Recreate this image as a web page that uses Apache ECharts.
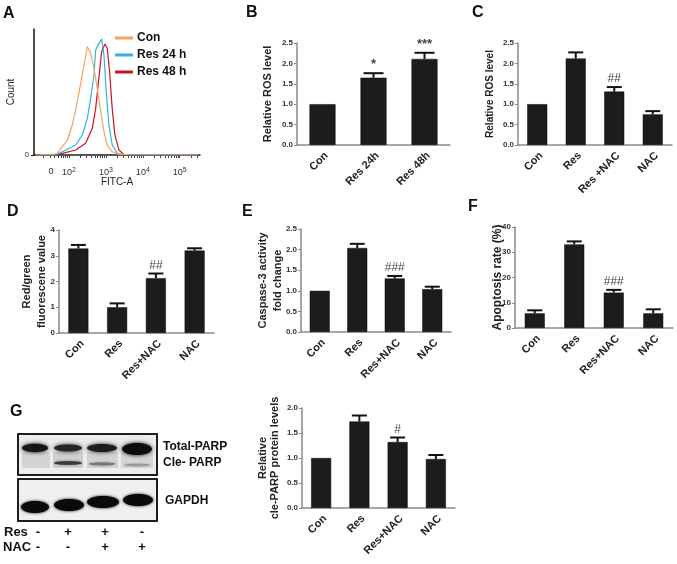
<!DOCTYPE html>
<html><head><meta charset="utf-8">
<script src="https://cdn.jsdelivr.net/npm/echarts@6/dist/echarts.min.js"></script>
<style>html,body{margin:0;padding:0;background:#fff}#c{width:677px;height:564px}</style>
</head><body><div id="c"></div>
<script>
// ---------- Panel A: flow histograms (x in display units: 2 = 10^2, 3 = 10^3 ...) ----------
const flowCon = [[1.10,0],[1.55,0.3],[1.684,1.3],[1.819,6.6],[1.954,11.9],[2.089,23.8],[2.224,42.3],[2.316,56.9],[2.405,71.4],[2.495,86],[2.586,80.7],[2.676,68.8],[2.765,52.9],[2.857,34.6],[2.946,18.5],[3.035,7.9],[3.170,2.6],[3.351,0.5],[3.6,0.2],[5.5,0]];
const flowRes24 = [[1.10,0],[1.60,0.3],[1.730,1.3],[1.911,4.0],[2.181,7.9],[2.359,15.9],[2.495,29.1],[2.586,45],[2.676,63.5],[2.722,83.3],[2.811,88.6],[2.884,92],[2.946,79.4],[3.008,50.3],[3.081,23.8],[3.170,7.9],[3.305,1.3],[3.5,0.3],[5.5,0]];
const flowRes48 = [[1.10,0],[1.65,0.3],[1.819,1.3],[2.181,4.0],[2.451,9.3],[2.630,21.2],[2.722,37],[2.811,61.6],[2.884,82],[2.973,88.1],[3.035,84.9],[3.100,66.1],[3.170,37],[3.243,15.9],[3.351,4.0],[3.486,0.5],[3.7,0.2],[5.5,0]];
const flowNames = ['Con','Res 24 h','Res 48 h'];
const flowColors = ['#F5A35E','#2FB3E6','#C8141E'];
const flowTickValues = [1.51, 2, 3, 4, 5];
const flowTickLabels = ['0','10{s|2}','10{s|3}','10{s|4}','10{s|5}'];

// ---------- Panel B ----------
const catsB = ['Con','Res 24h','Res 48h'];
const valsB = [1.0, 1.65, 2.11];
const errB  = [1.0, 1.76, 2.26];
const marksB = ['', '*', '***'];
// ---------- Panel C ----------
const catsC = ['Con','Res','Res +NAC','NAC'];
const valsC = [1.0, 2.12, 1.31, 0.75];
const errC  = [1.0, 2.27, 1.42, 0.83];
const marksC = ['', '', '##', ''];
// ---------- Panel D ----------
const catsD = ['Con','Res','Res+NAC','NAC'];
const valsD = [3.28, 1.0, 2.13, 3.2];
const errD  = [3.42, 1.15, 2.31, 3.29];
const marksD = ['', '', '##', ''];
// ---------- Panel E ----------
const catsE = ['Con','Res','Res+NAC','NAC'];
const valsE = [1.0, 2.04, 1.3, 1.04];
const errE  = [1.0, 2.14, 1.36, 1.1];
const marksE = ['', '', '###', ''];
// ---------- Panel F ----------
const catsF = ['Con','Res','Res+NAC','NAC'];
const valsF = [5.8, 33.1, 14.0, 5.8];
const errF  = [7.0, 34.3, 15.1, 7.4];
const marksF = ['', '', '###', ''];
// ---------- Panel G ----------
const catsG = ['Con','Res','Res+NAC','NAC'];
const valsG = [1.0, 1.73, 1.32, 0.98];
const errG  = [1.0, 1.85, 1.41, 1.06];
const marksG = ['', '', '#', ''];
const resRow = ['-','+','+','-'];
const nacRow = ['-','-','+','+'];

const FONT = "'Liberation Sans', Arial, sans-serif";
const chart = echarts.init(document.getElementById('c'), null, {renderer:'canvas'});

const grids = [], xAxes = [], yAxes = [], series = [];

// Panel A
grids.push({left:34, top:29, width:166, height:126});
const minorTicks = [];
for (let d = 1; d <= 5; d++) for (let k = 1; k <= 9; k++) { const v = d + Math.log10(k); if (v > 1.1 && v < 5.5) minorTicks.push(v); }
xAxes.push({type:'value', gridIndex:0, min:1.05, max:5.55, name:'FITC-A', nameLocation:'middle', nameGap:22, nameMoveOverlap:false,
  nameTextStyle:{fontFamily:FONT, fontSize:10, color:'#222'},
  axisLine:{lineStyle:{color:'#222', width:1.5}}, splitLine:{show:false},
  axisTick:{customValues:minorTicks, length:3, lineStyle:{color:'#444'}},
  axisLabel:{customValues:flowTickValues, margin:12, color:'#333', fontFamily:FONT, fontSize:9,
    formatter:(v)=>{ const i = flowTickValues.findIndex(t=>Math.abs(t-v)<1e-6); return i>=0 ? flowTickLabels[i] : ''; },
    rich:{s:{fontSize:7, verticalAlign:'bottom', padding:[0,0,5,0], fontFamily:FONT, color:'#333'}}}
});
yAxes.push({type:'value', gridIndex:0, min:0, max:100, name:'Count', nameLocation:'middle', nameGap:18, nameMoveOverlap:false,
  nameTextStyle:{fontFamily:FONT, fontSize:10, color:'#222'},
  axisLine:{show:true, lineStyle:{color:'#111', width:1.5}}, splitLine:{show:false},
  axisTick:{customValues:[0], length:3}, axisLabel:{customValues:[0], fontSize:8, color:'#333', fontFamily:FONT, margin:5}
});
[flowCon, flowRes24, flowRes48].forEach((d,i)=>{
  series.push({type:'line', name:flowNames[i], xAxisIndex:0, yAxisIndex:0, data:d, showSymbol:false, symbol:'none',
    lineStyle:{color:flowColors[i], width:1.2}, itemStyle:{color:flowColors[i]}, z:3-i+2});
});

function errRender(marks, cap){
  return function(params, api){
    const x = api.value(0), v = api.value(1), t = api.value(2);
    const p0 = api.coord([x, v]), p1 = api.coord([x, t]);
    const ch = [];
    if (t > v) {
      ch.push({type:'line', shape:{x1:p0[0], y1:p0[1], x2:p1[0], y2:p1[1]}, style:{stroke:'#111', lineWidth:2}});
      ch.push({type:'line', shape:{x1:p1[0]-cap/2, y1:p1[1], x2:p1[0]+cap/2, y2:p1[1]}, style:{stroke:'#111', lineWidth:2}});
    }
    const m = marks[params.dataIndex];
    if (m) ch.push({type:'text', x:p1[0], y:p1[1]-2, style:{text:m, align:'center', verticalAlign:'bottom',
      fontFamily:FONT, fontSize:m.indexOf('#')>=0 ? 12 : 13, fontWeight: m.indexOf('#')>=0 ? 'normal':'bold', fill:'#444'}});
    return {type:'group', children:ch};
  };
}

function barPanel(g, cats, vals, errs, marks, ymax, interval, dec, name, nameGap, nameSize, nameLH, barW, cap){
  const idx = grids.length;
  grids.push(g);
  xAxes.push({type:'category', gridIndex:idx, data:cats, boundaryGap:true,
    axisLine:{lineStyle:{color:'#8a8a8a', width:1.5}},
    axisTick:{alignWithLabel:true, length:4, lineStyle:{color:'#8a8a8a', width:1.2}},
    axisLabel:{rotate:45, margin:5, verticalAlign:'top', fontFamily:FONT, fontSize:11, fontWeight:'bold', color:'#222', interval:0}});
  yAxes.push({type:'value', gridIndex:idx, min:0, max:ymax, interval:interval,
    name:name, nameLocation:'middle', nameGap:nameGap, nameMoveOverlap:false,
    nameTextStyle:{fontFamily:FONT, fontSize:nameSize, fontWeight:'bold', color:'#222', lineHeight:nameLH, align:'center'},
    axisLine:{show:true, lineStyle:{color:'#8a8a8a', width:1.5}}, splitLine:{show:false},
    axisTick:{show:true, length:3, lineStyle:{color:'#8a8a8a'}},
    axisLabel:{fontFamily:FONT, fontSize:8, fontWeight:'bold', color:'#333', margin:4, formatter:(v)=>v.toFixed(dec)}});
  series.push({type:'bar', xAxisIndex:idx, yAxisIndex:idx, data:vals, barWidth:barW,
    itemStyle:{color:'#1c1c1c', borderColor:'#0a0a0a', borderWidth:0.5}});
  series.push({type:'custom', xAxisIndex:idx, yAxisIndex:idx, data:vals.map((v,j)=>[j, v, errs[j]]),
    renderItem:errRender(marks, cap), z:5});
}

barPanel({left:297, top:43, width:153, height:102}, catsB, valsB, errB, marksB, 2.5, 0.5, 1, 'Relative ROS level', 22, 11, 14, 26, 20);
barPanel({left:518, top:43, width:154, height:102}, catsC, valsC, errC, marksC, 2.5, 0.5, 1, 'Relative ROS level', 21, 10, 14, 20, 15);
barPanel({left:59, top:230, width:155, height:103}, catsD, valsD, errD, marksD, 4, 1, 0, 'Red/green\nfluorescene value', 10, 11, 15, 20, 15);
barPanel({left:301, top:229, width:150, height:103}, catsE, valsE, errE, marksE, 2.5, 0.5, 1, 'Caspase-3 activity\nfold change', 16, 11, 15, 20, 15);
barPanel({left:515, top:227, width:158, height:101}, catsF, valsF, errF, marksF, 40, 10, 0, 'Apoptosis rate (%)', 10, 12, 14, 20, 15);
barPanel({left:302, top:408, width:153, height:100}, catsG, valsG, errG, marksG, 2.0, 0.5, 1, 'Relative\ncle-PARP protein levels', 21, 11, 12, 20, 15);

// ---------- graphic: panel letters, western blot ----------
const letters = [['A',3,14],['B',246,13],['C',472,13],['D',7,212],['E',242,212],['F',468,207],['G',10,412]];
const graphic = letters.map(l=>({type:'text', x:l[1], y:l[2], style:{text:l[0], fontFamily:FONT, fontSize:16, fontWeight:'bold', fill:'#111', verticalAlign:'middle'}}));

function band(cx, cy, rx, ry, col, blur){
  return {type:'ellipse', shape:{cx:cx, cy:cy, rx:rx, ry:ry}, style:{fill:col, shadowBlur:blur, shadowColor:col}};
}
graphic.push({type:'rect', shape:{x:18, y:434, width:139, height:41}, style:{fill:'#ececec', stroke:'#111', lineWidth:1.5}, z:1});
graphic.push({type:'rect', shape:{x:18, y:479, width:139, height:42}, style:{fill:'#efefef', stroke:'#111', lineWidth:1.5}, z:1});
const blotEls = [
  {type:'rect', shape:{x:22, y:452, width:28, height:16}, style:{fill:'#d4d4d4'}},
  {type:'rect', shape:{x:53, y:452, width:30, height:16}, style:{fill:'#cfcfcf'}},
  {type:'rect', shape:{x:87, y:452, width:31, height:16}, style:{fill:'#d2d2d2'}},
  {type:'rect', shape:{x:121, y:452, width:32, height:16}, style:{fill:'#d6d6d6'}},
  band(35, 448, 13, 4.2, '#161616', 4),
  band(68, 448, 14, 3.5, '#262626', 4),
  band(102, 448, 15, 4, '#1e1e1e', 4),
  band(137, 449, 15, 6, '#0c0c0c', 4),
  band(68, 463, 14, 1.8, '#3a3a3a', 2),
  band(102, 464, 13, 1.4, '#777', 2),
  band(137, 465, 13, 1.2, '#999', 2),
  band(35, 507, 14, 6, '#0a0a0a', 3),
  band(69, 505, 15, 6, '#0a0a0a', 3),
  band(103, 502, 16, 6, '#0a0a0a', 3),
  band(138, 500, 15, 6, '#0a0a0a', 3)
];
blotEls.forEach(e=>{ e.z = 2; graphic.push(e); });
graphic.push({type:'rect', shape:{x:18, y:434, width:139, height:41}, style:{fill:'none', stroke:'#111', lineWidth:1.5}, z:3});
graphic.push({type:'rect', shape:{x:18, y:479, width:139, height:42}, style:{fill:'none', stroke:'#111', lineWidth:1.5}, z:3});
[['Total-PARP',163,447],['Cle- PARP',163,463],['GAPDH',165,501]].forEach(t=>{
  graphic.push({type:'text', x:t[1], y:t[2], style:{text:t[0], fontFamily:FONT, fontSize:12, fontWeight:'bold', fill:'#111', verticalAlign:'middle'}});
});
graphic.push({type:'text', x:4, y:532, style:{text:'Res', fontFamily:FONT, fontSize:13, fontWeight:'bold', fill:'#111', verticalAlign:'middle'}});
graphic.push({type:'text', x:3, y:547, style:{text:'NAC', fontFamily:FONT, fontSize:13, fontWeight:'bold', fill:'#111', verticalAlign:'middle'}});
const laneX = [38, 68, 105, 142];
resRow.forEach((s,i)=>graphic.push({type:'text', x:laneX[i], y:532, style:{text:s, fontFamily:FONT, fontSize:13, fontWeight:'bold', fill:'#111', align:'center', verticalAlign:'middle'}}));
nacRow.forEach((s,i)=>graphic.push({type:'text', x:laneX[i], y:547, style:{text:s, fontFamily:FONT, fontSize:13, fontWeight:'bold', fill:'#111', align:'center', verticalAlign:'middle'}}));

chart.setOption({
  animation:false,
  backgroundColor:'#fff',
  grid:grids, xAxis:xAxes, yAxis:yAxes, series:series,
  legend:{data:flowNames, left:110, top:27, orient:'vertical', itemWidth:18, itemHeight:3, itemGap:5, icon:'rect',
    textStyle:{fontFamily:FONT, fontSize:12, fontWeight:'bold', color:'#111', padding:[0,0,0,-1]}},
  graphic:graphic
});
</script>
</body></html>
